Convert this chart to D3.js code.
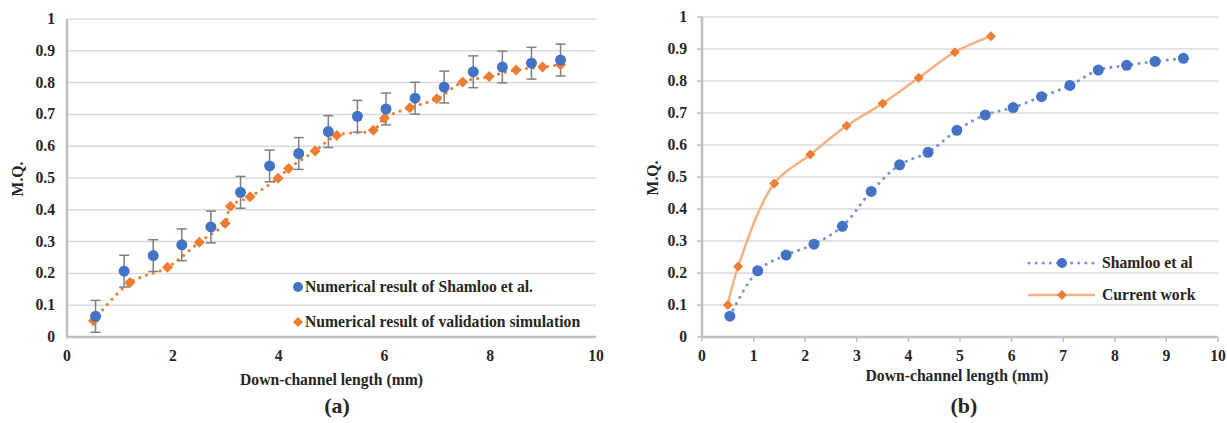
<!DOCTYPE html>
<html>
<head>
<meta charset="utf-8">
<script src="https://cdn.jsdelivr.net/npm/d3@7"></script>
<style>
  body { margin: 0; background: #fff; }
  svg text { font-family: "Liberation Serif", "Times New Roman", serif; font-weight: bold; fill: #262626; }
</style>
</head>
<body>
<div id="chart"></div>
<script>
// data
const shamlooX = [0.54, 1.08, 1.63, 2.17, 2.72, 3.28, 3.83, 4.38, 4.94, 5.49, 6.03, 6.58, 7.13, 7.68, 8.23, 8.78, 9.33];
const shamlooY = [0.065, 0.207, 0.256, 0.29, 0.346, 0.455, 0.538, 0.577, 0.646, 0.694, 0.717, 0.751, 0.786, 0.834, 0.849, 0.861, 0.871];
const errBar = 0.05; // fixed-value error bars

const validX = [0.50, 1.19, 1.90, 2.50, 2.99, 3.09, 3.46, 3.99, 4.19, 4.69, 5.10, 5.79, 6.00, 6.48, 6.99, 7.48, 7.98, 8.49, 8.99, 9.33];
const validY = [0.051, 0.171, 0.219, 0.298, 0.358, 0.411, 0.441, 0.499, 0.530, 0.585, 0.634, 0.650, 0.688, 0.721, 0.749, 0.802, 0.819, 0.840, 0.849, 0.856];

const currentX = [0.5, 0.7, 1.4, 2.1, 2.8, 3.5, 4.2, 4.9, 5.6];
const currentY = [0.10, 0.22, 0.48, 0.57, 0.66, 0.73, 0.81, 0.89, 0.94];

const yTicks = [0, 0.1, 0.2, 0.3, 0.4, 0.5, 0.6, 0.7, 0.8, 0.9, 1];
const xTicksA = [0, 2, 4, 6, 8, 10];
const xTicksB = [0, 1, 2, 3, 4, 5, 6, 7, 8, 9, 10];

const blue = "#4472c4", orange = "#ed7d31";
const fs = "15.7px";

const svg = d3.select("#chart").append("svg")
    .attr("width", 1227)
    .attr("height", 423);

function zip(xs, ys) { return xs.map((x, i) => ({ x: x, y: ys[i] })); }

function diamond(sel, r) {
    return sel.append("path")
        .attr("d", `M0,${-r}L${r},0L0,${r}L${-r},0Z`)
        .attr("fill", orange);
}

function drawFrame(g, x, y, xTicks, opts) {
    const [x0, x1] = x.range();
    // gridlines
    g.selectAll(".grid").data(yTicks.slice(1)).enter().append("line")
        .attr("x1", x0).attr("x2", x1)
        .attr("y1", d => y(d)).attr("y2", d => y(d))
        .attr("stroke", "#d9d9d9").attr("stroke-width", 1.5);
    // axes lines
    g.append("line").attr("x1", x0).attr("x2", x0).attr("y1", y(1)).attr("y2", y(0))
        .attr("stroke", "#bfbfbf").attr("stroke-width", 2.5);
    g.append("line").attr("x1", x0 - 1).attr("x2", x1).attr("y1", y(0)).attr("y2", y(0))
        .attr("stroke", "#bfbfbf").attr("stroke-width", 2.5);
    if (opts.ticks) {
        g.selectAll(".xt").data(xTicks).enter().append("line")
            .attr("x1", d => x(d)).attr("x2", d => x(d))
            .attr("y1", y(0)).attr("y2", y(0) + 5)
            .attr("stroke", "#bfbfbf").attr("stroke-width", 1.5);
        g.selectAll(".yt").data(yTicks).enter().append("line")
            .attr("x1", x0 - 5).attr("x2", x0)
            .attr("y1", d => y(d)).attr("y2", d => y(d))
            .attr("stroke", "#bfbfbf").attr("stroke-width", 1.5);
    }
    // tick labels
    g.selectAll(".yl").data(yTicks).enter().append("text")
        .attr("x", x0 - opts.yLabelGap).attr("y", d => y(d) + 5)
        .attr("text-anchor", "end").style("font-size", fs)
        .text(d => d3.format("~g")(d));
    g.selectAll(".xl").data(xTicks).enter().append("text")
        .attr("x", d => x(d)).attr("y", y(0) + 24)
        .attr("text-anchor", "middle").style("font-size", fs)
        .text(d => d);
    // titles
    g.append("text")
        .attr("x", (x0 + x1) / 2 - opts.titleShift).attr("y", opts.titleY)
        .attr("text-anchor", "middle").style("font-size", fs)
        .text("Down-channel length (mm)");
    g.append("text")
        .attr("transform", `translate(${opts.yTitleX},${(y(0) + y(1)) / 2 + 1}) rotate(-90)`)
        .attr("text-anchor", "middle").style("font-size", fs)
        .text("M.Q.");
    g.append("text")
        .attr("x", opts.capX).attr("y", 413)
        .attr("text-anchor", "middle").style("font-size", "22px")
        .text(opts.caption);
}

// ---------- panel (a)
const gA = svg.append("g");
const xA = d3.scaleLinear().domain([0, 10]).range([67, 596]);
const yA = d3.scaleLinear().domain([0, 1]).range([337, 19]);
drawFrame(gA, xA, yA, xTicksA, { ticks: false, yLabelGap: 12, titleShift: 0, titleY: 385, yTitleX: 23, capX: 337, caption: "(a)" });

const shamloo = zip(shamlooX, shamlooY);
const valid = zip(validX, validY);

// validation dotted line
gA.append("path")
    .datum(valid)
    .attr("d", d3.line().x(d => xA(d.x)).y(d => yA(d.y)).curve(d3.curveCatmullRom))
    .attr("fill", "none").attr("stroke", orange).attr("stroke-width", 3)
    .attr("stroke-linecap", "round").attr("stroke-dasharray", "0.1 7");

// error bars
const eb = gA.selectAll(".eb").data(shamloo).enter().append("g").attr("stroke", "#7f7f7f").attr("stroke-width", 1.5);
eb.append("line").attr("x1", d => xA(d.x)).attr("x2", d => xA(d.x))
    .attr("y1", d => yA(d.y + errBar)).attr("y2", d => yA(d.y - errBar));
eb.append("line").attr("x1", d => xA(d.x) - 5).attr("x2", d => xA(d.x) + 5)
    .attr("y1", d => yA(d.y + errBar)).attr("y2", d => yA(d.y + errBar));
eb.append("line").attr("x1", d => xA(d.x) - 5).attr("x2", d => xA(d.x) + 5)
    .attr("y1", d => yA(d.y - errBar)).attr("y2", d => yA(d.y - errBar));

gA.selectAll(".va").data(valid).enter().append("g")
    .attr("transform", d => `translate(${xA(d.x)},${yA(d.y)})`)
    .each(function () { diamond(d3.select(this), 5.5); });

gA.selectAll(".sa").data(shamloo).enter().append("circle")
    .attr("cx", d => xA(d.x)).attr("cy", d => yA(d.y)).attr("r", 5.5)
    .attr("fill", blue);

// legend (a)
const legA = gA.append("g");
legA.append("circle").attr("cx", 298).attr("cy", 287).attr("r", 5).attr("fill", blue);
legA.append("text").attr("x", 305).attr("y", 292).style("font-size", fs)
    .text("Numerical result of Shamloo et al.");
diamond(legA.append("g").attr("transform", "translate(298,322)"), 5);
legA.append("text").attr("x", 305).attr("y", 327).style("font-size", fs)
    .text("Numerical result of validation simulation");

// ---------- panel (b)
const gB = svg.append("g");
const xB = d3.scaleLinear().domain([0, 10]).range([702, 1218]);
const yB = d3.scaleLinear().domain([0, 1]).range([337, 17]);
drawFrame(gB, xB, yB, xTicksB, { ticks: true, yLabelGap: 15, titleShift: 3, titleY: 381, yTitleX: 658, capX: 964, caption: "(b)" });

const current = zip(currentX, currentY);

gB.append("path")
    .datum(shamloo)
    .attr("d", d3.line().x(d => xB(d.x)).y(d => yB(d.y)).curve(d3.curveCatmullRom))
    .attr("fill", "none").attr("stroke", "#7b93d0").attr("stroke-width", 3)
    .attr("stroke-linecap", "round").attr("stroke-dasharray", "0.1 7");

gB.append("path")
    .datum(current)
    .attr("d", d3.line().x(d => xB(d.x)).y(d => yB(d.y)).curve(d3.curveCatmullRom))
    .attr("fill", "none").attr("stroke", "#f4b183").attr("stroke-width", 2.5);

gB.selectAll(".sb").data(shamloo).enter().append("circle")
    .attr("cx", d => xB(d.x)).attr("cy", d => yB(d.y)).attr("r", 5.5)
    .attr("fill", blue);

gB.selectAll(".cb").data(current).enter().append("g")
    .attr("transform", d => `translate(${xB(d.x)},${yB(d.y)})`)
    .each(function () { diamond(d3.select(this), 5); });

// legend (b)
const legB = gB.append("g");
legB.append("line").attr("x1", 1029).attr("x2", 1093).attr("y1", 263).attr("y2", 263)
    .attr("stroke", "#7b93d0").attr("stroke-width", 3)
    .attr("stroke-linecap", "round").attr("stroke-dasharray", "0.1 7");
legB.append("circle").attr("cx", 1062).attr("cy", 263).attr("r", 5).attr("fill", blue);
legB.append("text").attr("x", 1102).attr("y", 268).style("font-size", fs).text("Shamloo et al");
legB.append("line").attr("x1", 1028).attr("x2", 1095).attr("y1", 295).attr("y2", 295)
    .attr("stroke", "#f4b183").attr("stroke-width", 2.5);
diamond(legB.append("g").attr("transform", "translate(1062,295)"), 5);
legB.append("text").attr("x", 1102).attr("y", 300).style("font-size", fs).text("Current work");
</script>
</body>
</html>
